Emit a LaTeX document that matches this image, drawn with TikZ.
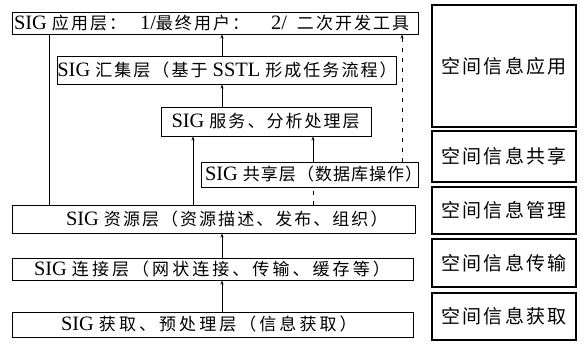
\documentclass[tikz,border=0pt]{standalone}
\usepackage{fontspec}
\setmainfont[Scale=1.2]{Liberation Serif}
\newfontfamily\cjk[LetterSpace=12]{Noto Sans CJK SC}
\newfontfamily\cjkw[LetterSpace=18]{Noto Sans CJK SC}
\newfontfamily\cjkn[LetterSpace=6]{Noto Sans CJK SC}
\usetikzlibrary{arrows.meta}
\newcommand{\zh}[1]{{\cjk #1}}
\newcommand{\zhw}[1]{{\cjkw #1}}
\newcommand{\zhn}[1]{{\cjkn #1}}
\tikzset{
  lay/.style={draw, line width=1pt, rectangle, inner sep=0pt, font=\fontsize{17}{19}\selectfont},
  side/.style={draw, line width=1.2pt, rectangle, inner sep=0pt, font=\fontsize{19}{21}\selectfont},
  conn/.style={line width=0.7pt},
  arr/.style={line width=0.7pt, -{Stealth[length=4pt,width=3pt]}},
  dashc/.style={line width=0.7pt, dash pattern=on 4pt off 6pt},
}
\newcommand{\lbox}[7]{% name, style, x1,y1,x2,y2, text
  \node[#2, minimum width={#5-#3}, minimum height={#6-#4}] (#1) at ({(#3+#5)/2},{(#4+#6)/2}) {#7};}
\newcommand{\lft}[3]{\makebox[#1pt][l]{\hspace*{#2pt}#3}}
\begin{document}
\begin{tikzpicture}[x=1pt,y=-1pt]
\useasboundingbox (0,0) rectangle (585,343);
% layer boxes
\lbox{A}{lay}{12}{12}{418}{34}{\lft{404}{1}{SIG \zh{应用层：}\hspace{14pt}1/\zh{最终用户：}\hspace{22pt}2/\hspace{10pt}\zh{二次开发工具}}}
\lbox{B}{lay}{61}{56}{393}{84}{SIG \zh{汇集层（基于} SSTL \zh{形成任务流程）}}
\lbox{C}{lay}{161}{107}{371}{136}{\lft{207}{9}{SIG \zh{服务、分析处理层}}}
\lbox{D}{lay}{201}{162}{418}{187}{\lft{215}{3}{SIG \zhn{共享层（数据库操作）}}}
\lbox{E}{lay}{12}{205}{415}{233}{\lft{401}{53}{SIG \zh{资源层（资源描述、发布、组织）}}}
\lbox{F}{lay}{12}{258}{413}{280}{\lft{399}{21}{SIG \zhw{连接层（网状连接、传输、缓存等）}}}
\lbox{G}{lay}{12}{312}{413}{337}{\lft{399}{48}{SIG \zhw{获取、预处理层（信息获取）}}}
% side boxes
\lbox{R1}{side}{432}{5}{576}{127}{\zh{空间信息应用}}
\lbox{R2}{side}{432}{131}{576}{182}{\zh{空间信息共享}}
\lbox{R3}{side}{432}{187}{576}{234}{\zh{空间信息管理}}
\lbox{R4}{side}{432}{239}{576}{287}{\zh{空间信息传输}}
\lbox{R5}{side}{432}{293}{576}{340}{\zh{空间信息获取}}
% column positions
\coordinate (c1) at (49,0);
\coordinate (c2) at (222,0);
\coordinate (c3) at (193,0);
\coordinate (c4) at (313,0);
\coordinate (c5) at (402,0);
% connectors
\draw[conn] (E.north -| c1) -- (A.south -| c1);
\draw[arr] (B.north -| c2) -- (A.south -| c2);
\draw[arr] (C.north -| c2) -- (B.south -| c2);
\draw[arr] (E.north -| c3) -- (C.south -| c3);
\draw[arr] (D.north -| c4) -- (C.south -| c4);
\draw[dashc] (E.north -| c4) -- (D.south -| c4);
\draw[dashc] (D.north -| c5) -- (A.south -| c5);
\draw[arr] ([yshift=-6pt]A.south -| c5) -- (A.south -| c5);
\draw[arr] (F.north -| c2) -- (E.south -| c2);
\draw[arr] (G.north -| c2) -- (F.south -| c2);
\end{tikzpicture}
\end{document}
